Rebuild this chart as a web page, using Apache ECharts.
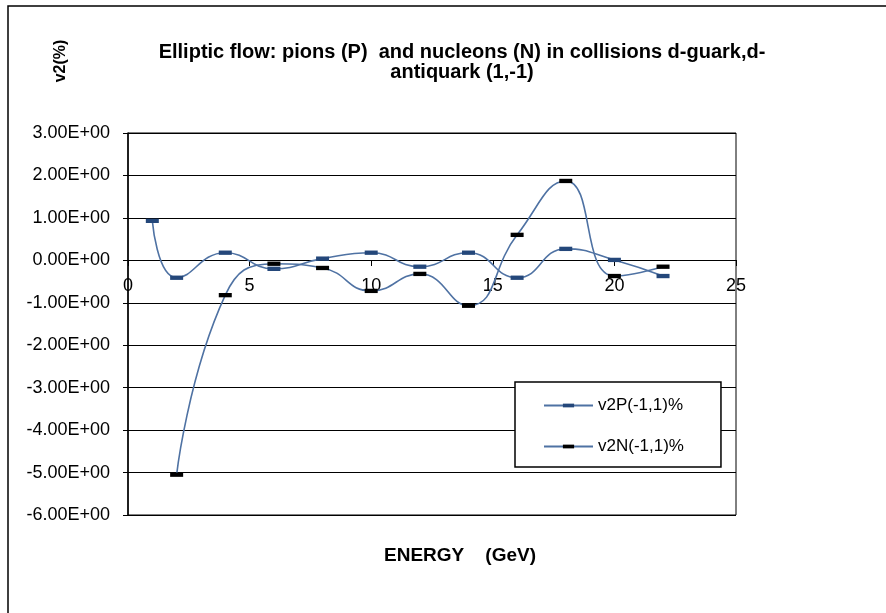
<!DOCTYPE html>
<html>
<head>
<meta charset="utf-8">
<script src="https://cdn.jsdelivr.net/npm/echarts@6/dist/echarts.min.js"></script>
<style>
  html, body { margin: 0; padding: 0; background: #fff; }
  #chart { width: 886px; height: 613px; }
</style>
</head>
<body>
<div id="chart"></div>
<script>
// energies (GeV) and v2 values (%)
var energyP = [1, 2, 4, 6, 8, 10, 12, 14, 16, 18, 20, 22]
var v2P = [0.93, -0.41, 0.18, -0.2, 0.04, 0.18, -0.15, 0.18, -0.41, 0.27, 0.01, -0.37]
var energyN = [2, 4, 6, 8, 10, 12, 14, 16, 18, 20, 22]
var v2N = [-5.05, -0.82, -0.08, -0.18, -0.72, -0.32, -1.07, 0.6, 1.87, -0.37, -0.15]
var xTicks = [0, 25, 5]
var yTicks = [-6, 3, 1]

function pairs (xs, ys) {
  return xs.map(function (x, i) { return [x, ys[i]] })
}

// flat dash inside a square box, so the legend icon stays a dash too
var dash = 'path://M0,0 M12,12 M0,4 L12,4 L12,8 L0,8 Z'

var myChart = echarts.init(document.getElementById('chart'))
var lineColor = '#4f72a3'
var option = {
  backgroundColor: '#fff',
  animation: false,
  textStyle: { fontFamily: 'Arial, "Liberation Sans", sans-serif' },
  grid: {
    left: 128,
    top: 133,
    right: 150,
    bottom: 98,
    show: true,
    borderColor: '#000',
    borderWidth: 1
  },
  xAxis: {
    type: 'value',
    min: xTicks[0],
    max: xTicks[1],
    interval: xTicks[2],
    offset: -255,
    axisLine: { onZero: false, lineStyle: { color: '#000', width: 1 } },
    axisTick: { show: true, length: 6, lineStyle: { color: '#000' } },
    axisLabel: { color: '#000', fontSize: 18, margin: 17 },
    splitLine: { show: false }
  },
  yAxis: {
    type: 'value',
    min: yTicks[0],
    max: yTicks[1],
    interval: yTicks[2],
    axisLine: { show: true, lineStyle: { color: '#000', width: 1.5 } },
    axisTick: { show: true, length: 5, lineStyle: { color: '#000' } },
    axisLabel: {
      color: '#000',
      fontSize: 18,
      margin: 18,
      formatter: function (v) { return v.toFixed(2) + 'E+00' }
    },
    splitLine: { show: true, lineStyle: { color: '#000', width: 1 } }
  },
  legend: {
    orient: 'vertical',
    left: 515,
    top: 382,
    padding: [15, 37, 12, 28],
    itemGap: 24,
    itemWidth: 49,
    itemHeight: 14,
    borderColor: '#000',
    borderWidth: 1.5,
    backgroundColor: '#fff',
    textStyle: { color: '#000', fontSize: 17 },
    data: ['v2P(-1,1)%', 'v2N(-1,1)%']
  },
  graphic: [
    {
      type: 'rect',
      shape: { x: 8, y: 6, width: 900, height: 700 },
      style: { fill: 'none', stroke: '#000', lineWidth: 1.5 },
      z: 100
    },
    {
      type: 'text',
      x: 462,
      y: 42,
      style: {
        text: 'Elliptic flow: pions (P)  and nucleons (N) in collisions d-guark,d-\nantiquark (1,-1)',
        textAlign: 'center',
        font: 'bold 20px Arial, "Liberation Sans", sans-serif',
        lineHeight: 20,
        fill: '#000'
      }
    },
    {
      type: 'text',
      x: 61,
      y: 61,
      rotation: Math.PI / 2,
      style: {
        text: 'v2(%)',
        textAlign: 'center',
        textVerticalAlign: 'middle',
        font: 'bold 16px Arial, "Liberation Sans", sans-serif',
        fill: '#000'
      }
    },
    {
      type: 'text',
      x: 384,
      y: 556,
      style: {
        text: 'ENERGY    (GeV)',
        textVerticalAlign: 'middle',
        font: 'bold 19px Arial, "Liberation Sans", sans-serif',
        fill: '#000'
      }
    }
  ],
  series: [
    {
      name: 'v2P(-1,1)%',
      type: 'line',
      smooth: 0.5,
      data: pairs(energyP, v2P),
      symbol: dash,
      symbolSize: 13,
      itemStyle: { color: '#24477a' },
      lineStyle: { color: lineColor, width: 1.6 },
      z: 3
    },
    {
      name: 'v2N(-1,1)%',
      type: 'line',
      smooth: 0.5,
      data: pairs(energyN, v2N),
      symbol: dash,
      symbolSize: 13,
      itemStyle: { color: '#000' },
      lineStyle: { color: lineColor, width: 1.6 },
      z: 4
    }
  ]
}
myChart.setOption(option)
</script>
</body>
</html>
